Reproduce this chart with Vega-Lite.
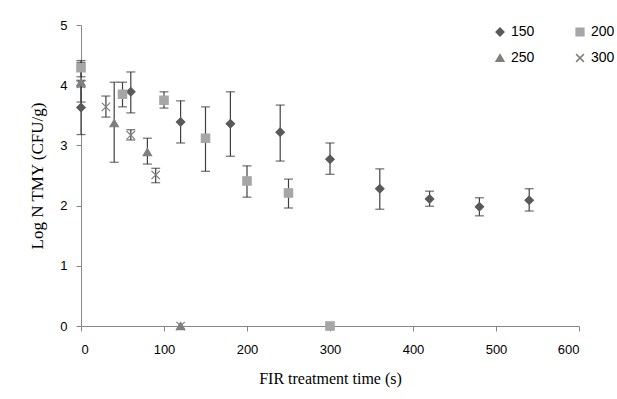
{
  "$schema": "https://vega.github.io/schema/vega-lite/v6.json",
  "width": 498,
  "height": 301,
  "autosize": {"type": "none"},
  "padding": {"left": 81, "top": 25, "right": 38, "bottom": 73},
  "background": "white",
  "config": {
    "view": {"stroke": null},
    "axis": {
      "grid": false,
      "domainColor": "#868686",
      "tickColor": "#868686",
      "tickSize": 5,
      "labelFont": "Liberation Sans",
      "labelFontSize": 13,
      "labelColor": "#000000",
      "titleFont": "Liberation Serif",
      "titleFontSize": 16,
      "titleFontWeight": "normal",
      "titleColor": "#000000"
    }
  },
  "data": {
    "values": [
      {"time": 0, "series": "150", "mean": 3.63, "lo": 3.18, "hi": 4.08},
      {"time": 60, "series": "150", "mean": 3.89, "lo": 3.54, "hi": 4.22},
      {"time": 120, "series": "150", "mean": 3.39, "lo": 3.04, "hi": 3.74},
      {"time": 180, "series": "150", "mean": 3.36, "lo": 2.82, "hi": 3.89},
      {"time": 240, "series": "150", "mean": 3.22, "lo": 2.74, "hi": 3.67},
      {"time": 300, "series": "150", "mean": 2.77, "lo": 2.52, "hi": 3.04},
      {"time": 360, "series": "150", "mean": 2.28, "lo": 1.94, "hi": 2.61},
      {"time": 420, "series": "150", "mean": 2.11, "lo": 1.99, "hi": 2.24},
      {"time": 480, "series": "150", "mean": 1.98, "lo": 1.83, "hi": 2.13},
      {"time": 540, "series": "150", "mean": 2.09, "lo": 1.91, "hi": 2.28},
      {"time": 0, "series": "200", "mean": 4.29, "lo": 4.14, "hi": 4.41},
      {"time": 50, "series": "200", "mean": 3.85, "lo": 3.64, "hi": 4.05},
      {"time": 100, "series": "200", "mean": 3.75, "lo": 3.62, "hi": 3.89},
      {"time": 150, "series": "200", "mean": 3.12, "lo": 2.57, "hi": 3.64},
      {"time": 200, "series": "200", "mean": 2.41, "lo": 2.14, "hi": 2.66},
      {"time": 250, "series": "200", "mean": 2.21, "lo": 1.96, "hi": 2.44},
      {"time": 300, "series": "200", "mean": 0, "lo": null, "hi": null},
      {"time": 0, "series": "250", "mean": 4.05, "lo": 3.72, "hi": 4.38},
      {"time": 40, "series": "250", "mean": 3.37, "lo": 2.72, "hi": 4.05},
      {"time": 80, "series": "250", "mean": 2.89, "lo": 2.69, "hi": 3.12},
      {"time": 120, "series": "250", "mean": 0, "lo": null, "hi": null},
      {"time": 0, "series": "300", "mean": 4.02, "lo": 3.97, "hi": 4.07},
      {"time": 30, "series": "300", "mean": 3.64, "lo": 3.47, "hi": 3.82},
      {"time": 60, "series": "300", "mean": 3.17, "lo": 3.09, "hi": 3.26},
      {"time": 90, "series": "300", "mean": 2.51, "lo": 2.38, "hi": 2.62},
      {"time": 120, "series": "300", "mean": 0, "lo": null, "hi": null}
    ]
  },
  "encoding": {
    "x": {
      "field": "time", "type": "quantitative",
      "scale": {"domain": [0, 600], "nice": false},
      "axis": {"values": [0, 100, 200, 300, 400, 500, 600], "title": "FIR treatment time (s)", "labelPadding": 12, "titlePadding": 14}
    }
  },
  "layer": [
    {
      "transform": [{"filter": "datum.lo != null"}],
      "mark": {"type": "rule", "color": "#404040", "strokeWidth": 1.2},
      "encoding": {
        "y": {"field": "lo", "type": "quantitative"},
        "y2": {"field": "hi"}
      }
    },
    {
      "transform": [{"filter": "datum.lo != null"}],
      "mark": {"type": "tick", "orient": "horizontal", "color": "#303030", "size": 9, "thickness": 1.2},
      "encoding": {"y": {"field": "lo", "type": "quantitative"}}
    },
    {
      "transform": [{"filter": "datum.hi != null"}],
      "mark": {"type": "tick", "orient": "horizontal", "color": "#303030", "size": 9, "thickness": 1.2},
      "encoding": {"y": {"field": "hi", "type": "quantitative"}}
    },
    {
      "mark": {"type": "point", "filled": true, "opacity": 1, "size": 70, "strokeWidth": 1.2},
      "encoding": {
        "y": {
          "field": "mean", "type": "quantitative",
          "scale": {"domain": [0, 5], "nice": false},
          "axis": {"values": [0, 1, 2, 3, 4, 5], "format": "d", "title": "Log N TMY (CFU/g)", "labelPadding": 9, "titlePadding": 13, "titleFontSize": 17}
        },
        "color": {
          "field": "series", "type": "nominal",
          "scale": {"domain": ["150", "250", "200", "300"], "range": ["#595959", "#7f7f7f", "#a6a6a6", "#7f7f7f"]},
          "legend": {
            "title": null,
            "orient": "none",
            "legendX": 412,
            "legendY": 0,
            "columns": 2,
            "columnPadding": 38,
            "rowPadding": 12,
            "labelFont": "Liberation Sans",
            "labelFontSize": 14,
            "labelColor": "#000000",
            "symbolSize": 60
          }
        },
        "stroke": {
          "field": "series", "type": "nominal",
          "scale": {"domain": ["150", "250", "200", "300"], "range": ["#595959", "#7f7f7f", "#a6a6a6", "#7f7f7f"]},
          "legend": null
        },
        "shape": {
          "field": "series", "type": "nominal",
          "scale": {"domain": ["150", "250", "200", "300"], "range": ["diamond", "triangle-up", "square", "M-1,-1L1,1M-1,1L1,-1"]}
        }
      }
    }
  ]
}
